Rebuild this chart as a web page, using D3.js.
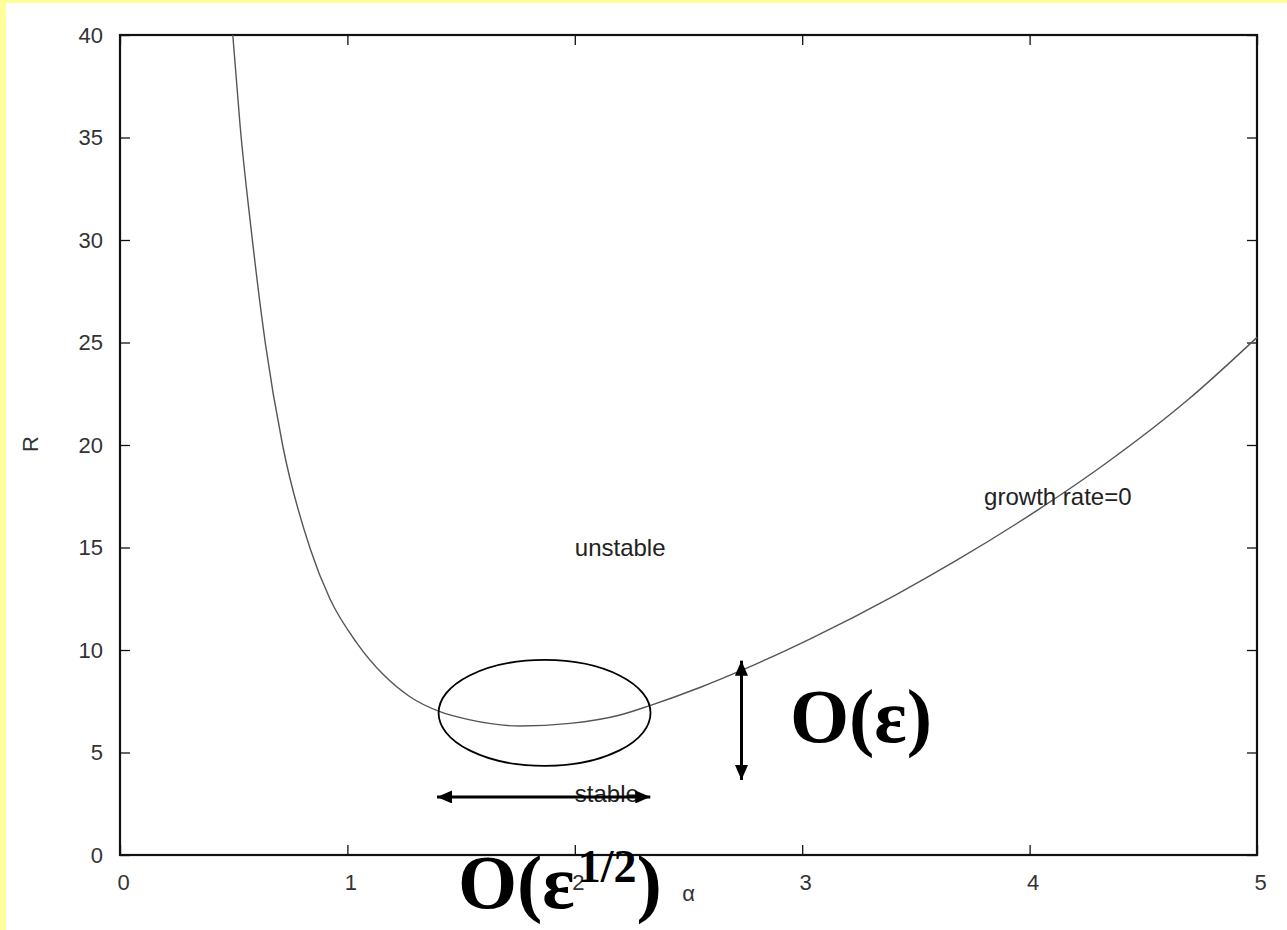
<!DOCTYPE html>
<html>
<head>
<meta charset="utf-8">
<script src="https://cdn.jsdelivr.net/npm/d3@7"></script>
<style>
  html, body { margin: 0; padding: 0; background: #ffff99; }
  svg { display: block; }
</style>
</head>
<body>
<svg id="chart" width="1287" height="930"></svg>
<script>
// Neutral stability curve: wavenumber alpha vs. critical R
const alphaVals = [0.496, 0.528, 0.579, 0.640, 0.715, 0.836, 0.923, 1.041, 1.158, 1.275, 1.407, 1.539, 1.759, 1.979, 2.199, 2.330, 2.550, 2.740, 3.040, 3.410, 3.680, 4.040, 4.330, 4.700, 5.000];
const rVals     = [40.0, 35.6, 30.3, 24.9, 20.0, 14.95, 12.5, 10.35, 8.8, 7.72, 6.99, 6.59, 6.29, 6.42, 6.83, 7.29, 8.17, 9.04, 10.57, 12.68, 14.38, 16.86, 19.06, 22.24, 25.25];

const xTicks = [0, 1, 2, 3, 4, 5];
const yTicks = [0, 5, 10, 15, 20, 25, 30, 35, 40];

// region labels: [text, alpha, R]
const regionLabels = [
  ["unstable", 2.0, 15],
  ["stable", 2.0, 3],
  ["growth rate=0", 3.8, 17.5]
];

// annotation geometry in data units
const ellipseGeom = { alpha: 1.867, r: 6.93, dAlpha: 0.466, dR: 2.585 };
const hArrow = { alpha0: 1.394, alpha1: 2.332, r: 2.83 };
const vArrow = { alpha: 2.733, r0: 3.66, r1: 9.48 };

const svg = d3.select("#chart");
const W = 1287, H = 930;
const mLeft = 120, mRight = 1257, mTop = 35, mBottom = 855;

// paper: yellow border strip with white page
svg.append("rect").attr("width", W).attr("height", H).attr("fill", "#ffff99");
svg.append("rect").attr("x", 6).attr("y", 3).attr("width", W - 6).attr("height", H - 3).attr("fill", "#ffffff");

const x = d3.scaleLinear().domain([0, 5]).range([mLeft, mRight]);
const y = d3.scaleLinear().domain([0, 40]).range([mBottom, mTop]);

const tickFont = "'Liberation Sans', Arial, Helvetica, sans-serif";

function styleAxis(g) {
  g.select(".domain").remove();
  g.selectAll(".tick line").attr("stroke", "#111").attr("stroke-width", 1.3);
  g.selectAll(".tick text").attr("fill", "#333").attr("font-size", 22).attr("font-family", tickFont);
}

svg.append("g").attr("transform", `translate(0,${mBottom})`)
  .call(d3.axisBottom(x).tickValues(xTicks).tickSize(-10).tickPadding(19).tickFormat(d3.format("d")))
  .call(styleAxis)
  .call(g => g.selectAll(".tick text").attr("dx", 3));

svg.append("g").attr("transform", `translate(0,${mTop})`)
  .call(d3.axisTop(x).tickValues(xTicks).tickSize(-10).tickFormat(""))
  .call(styleAxis);

svg.append("g").attr("transform", `translate(${mLeft},0)`)
  .call(d3.axisLeft(y).tickValues(yTicks).tickSize(-10).tickPadding(17).tickFormat(d3.format("d")))
  .call(styleAxis);

svg.append("g").attr("transform", `translate(${mRight},0)`)
  .call(d3.axisRight(y).tickValues(yTicks).tickSize(-10).tickFormat(""))
  .call(styleAxis);

// frame
svg.append("rect")
  .attr("x", mLeft).attr("y", mTop)
  .attr("width", mRight - mLeft).attr("height", mBottom - mTop)
  .attr("fill", "none").attr("stroke", "#111").attr("stroke-width", 2.2);

// axis titles
svg.append("text")
  .attr("transform", `translate(38,${(mTop + mBottom) / 2 - 1}) rotate(-90)`)
  .attr("text-anchor", "middle")
  .attr("font-family", tickFont).attr("font-size", 22).attr("fill", "#333")
  .text("R");

svg.append("text")
  .attr("x", (mLeft + mRight) / 2).attr("y", 901)
  .attr("text-anchor", "middle")
  .attr("font-family", tickFont).attr("font-size", 22).attr("fill", "#333")
  .text("α");

// curve
const pts = alphaVals.map((a, i) => [a, rVals[i]]);
const line = d3.line().x(d => x(d[0])).y(d => y(d[1])).curve(d3.curveMonotoneX);
svg.append("path").datum(pts)
  .attr("d", line)
  .attr("fill", "none").attr("stroke", "#555").attr("stroke-width", 1.4);

// region labels
svg.selectAll("text.region").data(regionLabels).join("text")
  .attr("class", "region")
  .attr("x", d => x(d[1])).attr("y", d => y(d[2]))
  .attr("dy", "0.35em")
  .attr("font-family", tickFont).attr("font-size", 24).attr("fill", "#222")
  .text(d => d[0]);

// ellipse around the minimum
svg.append("ellipse")
  .attr("cx", x(ellipseGeom.alpha)).attr("cy", y(ellipseGeom.r))
  .attr("rx", x(ellipseGeom.alpha + ellipseGeom.dAlpha) - x(ellipseGeom.alpha))
  .attr("ry", y(ellipseGeom.r) - y(ellipseGeom.r + ellipseGeom.dR))
  .attr("fill", "none").attr("stroke", "#000").attr("stroke-width", 1.8);

// double-headed arrows
const defs = svg.append("defs");
defs.append("marker")
  .attr("id", "head").attr("viewBox", "0 0 15 13")
  .attr("refX", 15).attr("refY", 6.5)
  .attr("markerWidth", 15).attr("markerHeight", 13)
  .attr("markerUnits", "userSpaceOnUse")
  .attr("orient", "auto-start-reverse")
  .append("path").attr("d", "M0,0 L15,6.5 L0,13 Z").attr("fill", "#000");

svg.append("line")
  .attr("x1", x(hArrow.alpha0)).attr("x2", x(hArrow.alpha1))
  .attr("y1", y(hArrow.r)).attr("y2", y(hArrow.r))
  .attr("stroke", "#000").attr("stroke-width", 3)
  .attr("marker-start", "url(#head)").attr("marker-end", "url(#head)");

svg.append("line")
  .attr("x1", x(vArrow.alpha)).attr("x2", x(vArrow.alpha))
  .attr("y1", y(vArrow.r1)).attr("y2", y(vArrow.r0))
  .attr("stroke", "#000").attr("stroke-width", 3)
  .attr("marker-start", "url(#head)").attr("marker-end", "url(#head)");

// order-of-magnitude labels
const bigFont = "'Liberation Serif', 'Times New Roman', serif";
svg.append("text")
  .attr("x", x(2.946)).attr("y", y(5.5))
  .attr("font-family", bigFont).attr("font-weight", "bold").attr("font-size", 76).attr("fill", "#000")
  .text("O(ε)");

const t2 = svg.append("text")
  .attr("x", x(1.486)).attr("y", y(-2.6))
  .attr("font-family", bigFont).attr("font-weight", "bold").attr("font-size", 76).attr("fill", "#000");
t2.append("tspan").text("O(ε");
t2.append("tspan").attr("font-size", 46).attr("dy", -26).attr("dx", 3).text("1/2");
t2.append("tspan").attr("dy", 26).text(")");
</script>
</body>
</html>
